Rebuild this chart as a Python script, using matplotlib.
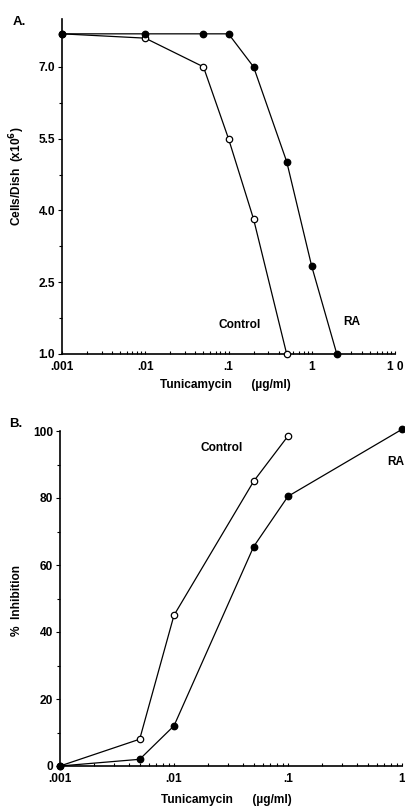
import numpy as np
import matplotlib
matplotlib.use('Agg')
import matplotlib.pyplot as plt
from matplotlib.ticker import FixedLocator, LogLocator, NullFormatter

plt.rcParams['font.family'] = ['Liberation Sans', 'DejaVu Sans']
plt.rcParams['font.weight'] = 'bold'
plt.rcParams['font.size'] = 8.6

# panel A: cell number vs tunicamycin
a_ctrl_x = [0.001, 0.01, 0.05, 0.1, 0.2, 0.5]
a_ctrl_y = [7.69, 7.6, 7.0, 5.5, 3.82, 1.0]
a_ra_x = [0.001, 0.01, 0.05, 0.1, 0.2, 0.5, 1.0, 2.0]
a_ra_y = [7.69, 7.69, 7.69, 7.69, 7.0, 5.02, 2.83, 1.0]
a_yticks = [1.0, 2.5, 4.0, 5.5, 7.0]
a_xticks = [0.001, 0.01, 0.1, 1, 10]
a_xlabels = ['.001', '.01', '.1', '1', '1 0']

# panel B: % inhibition vs tunicamycin
b_ctrl_x = [0.001, 0.005, 0.01, 0.05, 0.1]
b_ctrl_y = [0, 8, 45, 85, 98.5]
b_ra_x = [0.001, 0.005, 0.01, 0.05, 0.1, 1.0]
b_ra_y = [0, 2, 12, 65.5, 80.5, 100.5]
b_yticks = [0, 20, 40, 60, 80, 100]
b_xticks = [0.001, 0.01, 0.1, 1]
b_xlabels = ['.001', '.01', '.1', '1']

fig = plt.figure(figsize=(4.06, 8.06), dpi=100)
W, H = 406, 806

def add_ax(l, r, t, b):
    return fig.add_axes([l / W, 1 - b / H, (r - l) / W, (b - t) / H])

def style(ax, xticks, xlabels, yticks, ylabels):
    for s in ['top', 'right']:
        ax.spines[s].set_visible(False)
    for s in ['left', 'bottom']:
        ax.spines[s].set_linewidth(1.2)
    ax.set_xscale('log')
    ax.xaxis.set_major_locator(FixedLocator(xticks))
    ax.set_xticklabels(xlabels)
    ax.xaxis.set_minor_locator(LogLocator(base=10, subs=np.arange(2, 10)))
    ax.xaxis.set_minor_formatter(NullFormatter())
    ax.set_yticks(yticks)
    ax.set_yticklabels(ylabels)
    mids = [(yticks[i] + yticks[i + 1]) / 2 for i in range(len(yticks) - 1)]
    ax.yaxis.set_minor_locator(FixedLocator(mids))
    ax.tick_params(axis='x', which='both', direction='in', length=2.5, width=0.8, pad=5)
    ax.tick_params(axis='y', which='major', direction='out', length=3, width=0.8, pad=2)
    ax.tick_params(axis='y', which='minor', direction='out', length=2, width=0.8)

def plot_pair(ax, cx, cy, rx, ry):
    ax.plot(cx, cy, color='black', lw=0.9, marker='o', ms=4.6,
            mfc='white', mec='black', mew=0.9, clip_on=False, zorder=3)
    ax.plot(rx, ry, color='black', lw=0.9, marker='o', ms=4.6,
            mfc='black', mec='black', clip_on=False, zorder=4)

# panel A
axA = add_ax(62, 395, 19, 354)
plot_pair(axA, a_ctrl_x, a_ctrl_y, a_ra_x, a_ra_y)
axA.set_xlim(0.001, 10)
axA.set_ylim(1.0, 8.0)
style(axA, a_xticks, a_xlabels, a_yticks, ['%.1f' % v for v in a_yticks])
fig.text(240 / W, 1 - 325 / H, 'Control', ha='center', va='center')
fig.text(352 / W, 1 - 322 / H, 'RA', ha='center', va='center')
fig.text(19 / W, 1 - 22 / H, 'A.', ha='center', va='center', fontsize=9.5)
fig.text(17 / W, 1 - 176 / H, 'Cells/Dish  (x10$^{\\mathbf{6}}$)', rotation=90,
         ha='center', va='center')
fig.text(225 / W, 1 - 385 / H, 'Tunicamycin      (\u00b5g/ml)', ha='center', va='center')

# panel B
axB = add_ax(60, 402, 431, 766)
plot_pair(axB, b_ctrl_x, b_ctrl_y, b_ra_x, b_ra_y)
axB.set_xlim(0.001, 1)
axB.set_ylim(0, 100)
style(axB, b_xticks, b_xlabels, b_yticks, [str(v) for v in b_yticks])
fig.text(222 / W, 1 - 448 / H, 'Control', ha='center', va='center')
fig.text(396 / W, 1 - 462 / H, 'RA', ha='center', va='center')
fig.text(16 / W, 1 - 424 / H, 'B.', ha='center', va='center', fontsize=9.5)
fig.text(17 / W, 1 - 600 / H, '%  Inhibition', rotation=90, ha='center', va='center')
fig.text(226 / W, 1 - 800 / H, 'Tunicamycin      (\u00b5g/ml)', ha='center', va='center')

fig.savefig('out.png', dpi=100)
